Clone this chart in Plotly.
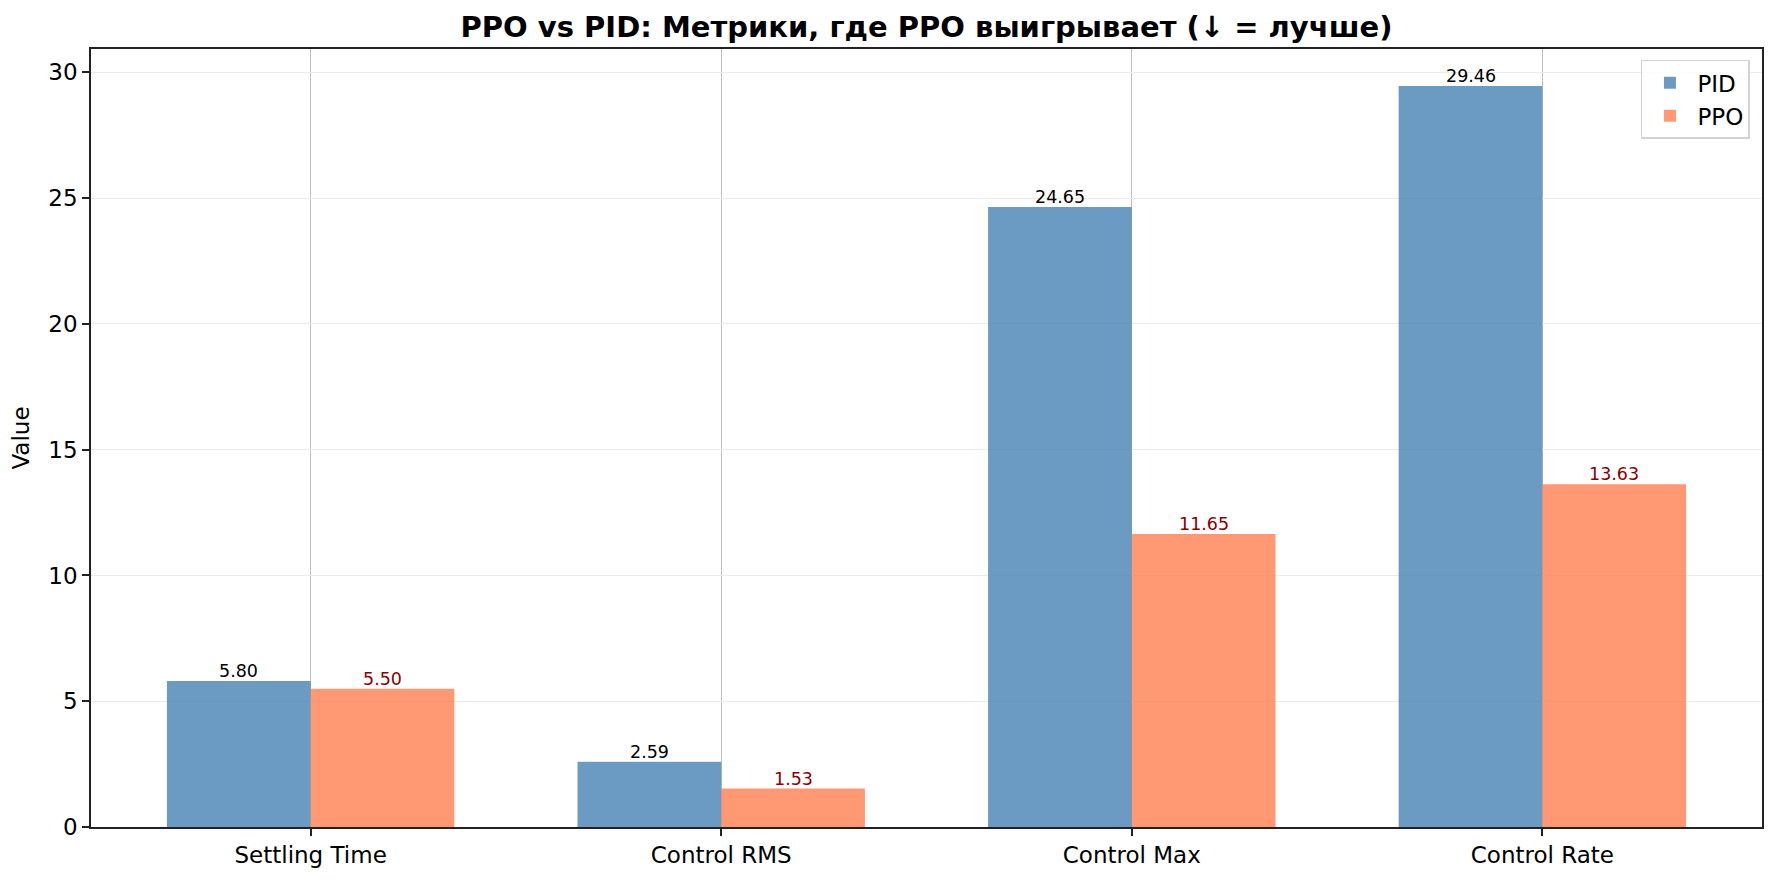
import plotly.graph_objects as go

categories = ["Settling Time", "Control RMS", "Control Max", "Control Rate"]
pid_values = [5.80, 2.59, 24.65, 29.46]
ppo_values = [5.50, 1.53, 11.65, 13.63]
y_ticks = [0, 5, 10, 15, 20, 25, 30]

FONT = "DejaVu Sans"
PID_COLOR = "rgba(70,130,180,0.8)"
PPO_COLOR = "rgba(255,127,80,0.8)"

fig = go.Figure()
fig.add_trace(go.Bar(x=categories, y=pid_values, name="PID", marker=dict(color=PID_COLOR, line=dict(width=0))))
fig.add_trace(go.Bar(x=categories, y=ppo_values, name="PPO", marker=dict(color=PPO_COLOR, line=dict(width=0))))

annotations = []
for i, (a, b) in enumerate(zip(pid_values, ppo_values)):
    annotations.append(dict(x=i - 0.175, y=a, xref="x", yref="y", text=f"{a:.2f}", showarrow=False,
                            yanchor="bottom", font=dict(family=FONT, size=17.5, color="black"), yshift=-2))
    annotations.append(dict(x=i + 0.175, y=b, xref="x", yref="y", text=f"{b:.2f}", showarrow=False,
                            yanchor="bottom", font=dict(family=FONT, size=17.5, color="#8B0000"), yshift=-2))

fig.update_layout(
    width=1777, height=880,
    margin=dict(l=91, r=15, t=49, b=53),
    paper_bgcolor="white", plot_bgcolor="white",
    barmode="group", bargap=0.3, bargroupgap=0,
    font=dict(family=FONT, size=23, color="black"),
    title=dict(text="<b>PPO vs PID: Метрики, где PPO выигрывает (↓ = лучше)</b>",
               x=(91 + 1762) / 2 / 1777, xanchor="center", y=1 - 27 / 880, yanchor="middle",
               font=dict(family=FONT, size=29, color="black")),
    showlegend=True,
    legend=dict(x=0.9928, xanchor="right", y=0.986, yanchor="top",
                bgcolor="rgba(255,255,255,0.8)", bordercolor="#d3d3d3", borderwidth=1.5,
                itemwidth=45, tracegroupgap=4,
                font=dict(family=FONT, size=23)),
    annotations=annotations,
)
fig.update_xaxes(
    range=[-0.535, 3.535], showgrid=True, gridcolor="#bdbdbd", gridwidth=1.2,
    showline=True, linecolor="#222222", linewidth=1.6, mirror=True,
    ticks="outside", ticklen=7, tickwidth=1.6, tickcolor="#222222",
    tickfont=dict(family=FONT, size=23, color="black"), zeroline=False,
)
fig.update_yaxes(
    range=[0, 30.93], tickvals=y_ticks, showgrid=True, gridcolor="#ebebeb", gridwidth=1.2,
    showline=True, linecolor="#222222", linewidth=1.6, mirror=True,
    ticks="outside", ticklen=7, tickwidth=1.6, tickcolor="#222222",
    tickfont=dict(family=FONT, size=23, color="black"), zeroline=False,
    title=dict(text="Value", font=dict(family=FONT, size=23, color="black"), standoff=12),
)

fig.write_html("out.html")
